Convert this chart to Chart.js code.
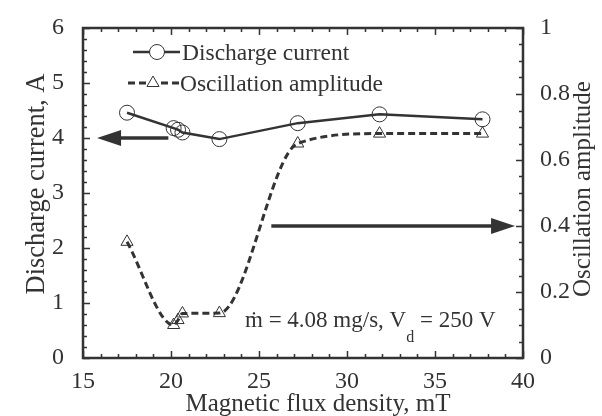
<!DOCTYPE html>
<html>
<head>
<meta charset="utf-8">
<script src="https://cdn.jsdelivr.net/npm/chart.js@4.4.1/dist/chart.umd.min.js"></script>
<style>
  html, body { margin: 0; padding: 0; background: #fff; }
  #wrap { width: 602px; height: 416px; }
</style>
</head>
<body>
<div id="wrap"><canvas id="chart" width="602" height="416"></canvas></div>
<script>
// Magnetic flux density (mT) for each operating point
const fluxDensity = [17.5, 20.15, 20.4, 20.65, 22.75, 27.2, 31.85, 37.7];
// Discharge current, A (left axis)
const dischargeCurrent = [4.46, 4.18, 4.15, 4.10, 3.98, 4.27, 4.43, 4.34];
// Oscillation amplitude (right axis)
const oscillationAmplitude = [0.352, 0.10, 0.115, 0.135, 0.136, 0.65, 0.68, 0.68];

const xTicks = [15, 20, 25, 30, 35, 40];
const currentTicks = [0, 1, 2, 3, 4, 5, 6];
const amplitudeTicks = [0, 0.2, 0.4, 0.6, 0.8, 1];

const INK = '#333';
const SERIF = '"Liberation Serif", "Times New Roman", serif';

Chart.defaults.font.family = SERIF;
Chart.defaults.color = INK;

const toPoints = ys => fluxDensity.map((x, i) => ({ x: x, y: ys[i] }));
const plainLabel = v => String(+Number(v).toFixed(2));

// inward ticks, frame, titles, legend, arrows and the operating-condition note
const decorations = {
  id: 'decorations',
  afterDraw(chart) {
    const ctx = chart.ctx;
    const area = chart.chartArea;
    const xs = chart.scales.x, yl = chart.scales.y, yr = chart.scales.y1;
    ctx.save();
    ctx.strokeStyle = INK;
    ctx.fillStyle = INK;

    // minor/major ticks
    ctx.lineWidth = 1.5;
    ctx.beginPath();
    for (let v = 15; v <= 40.001; v += 1) {
      const px = Math.round(xs.getPixelForValue(v)) + 0.5;
      const len = Math.abs(v % 5) < 1e-6 ? 7 : 4;
      ctx.moveTo(px, area.bottom); ctx.lineTo(px, area.bottom - len);
      ctx.moveTo(px, area.top); ctx.lineTo(px, area.top + len);
    }
    for (let i = 0; i <= 30; i++) {
      const py = Math.round(yl.getPixelForValue(i * 0.2)) + 0.5;
      const len = i % 5 === 0 ? 7 : 4;
      ctx.moveTo(area.left, py); ctx.lineTo(area.left + len, py);
    }
    for (let i = 0; i <= 20; i++) {
      const py = Math.round(yr.getPixelForValue(i * 0.05)) + 0.5;
      const len = i % 4 === 0 ? 7 : 4;
      ctx.moveTo(area.right, py); ctx.lineTo(area.right - len, py);
    }
    ctx.stroke();

    // plot frame
    ctx.lineWidth = 2.5;
    ctx.strokeRect(area.left, area.top, area.right - area.left, area.bottom - area.top);

    // axis titles
    ctx.textAlign = 'center';
    ctx.textBaseline = 'alphabetic';
    ctx.font = '25px ' + SERIF;
    ctx.fillText('Magnetic flux density, mT', 318, 411);
    ctx.save();
    ctx.font = '26.5px ' + SERIF;
    ctx.translate(44, 184);
    ctx.rotate(-Math.PI / 2);
    ctx.fillText('Discharge current, A', 0, 0);
    ctx.restore();
    ctx.save();
    ctx.font = '25px ' + SERIF;
    ctx.translate(590, 189);
    ctx.rotate(-Math.PI / 2);
    ctx.fillText('Oscillation amplitude', 0, 0);
    ctx.restore();

    // legend
    ctx.lineWidth = 2.5;
    ctx.beginPath();
    ctx.moveTo(133, 52); ctx.lineTo(180, 52);
    ctx.stroke();
    ctx.lineWidth = 1;
    ctx.beginPath();
    ctx.arc(157, 52, 7.5, 0, Math.PI * 2);
    ctx.fillStyle = '#fff';
    ctx.fill();
    ctx.stroke();
    ctx.lineWidth = 3;
    ctx.setLineDash([7, 4]);
    ctx.beginPath();
    ctx.moveTo(128, 83); ctx.lineTo(180, 83);
    ctx.stroke();
    ctx.setLineDash([]);
    ctx.lineWidth = 1;
    ctx.beginPath();
    const tr = 7;
    ctx.moveTo(153, 83 - tr);
    ctx.lineTo(153 + tr * Math.sin(2 * Math.PI / 3), 83 + tr / 2);
    ctx.lineTo(153 - tr * Math.sin(2 * Math.PI / 3), 83 + tr / 2);
    ctx.closePath();
    ctx.fill();
    ctx.stroke();
    ctx.fillStyle = INK;
    ctx.font = '23.5px ' + SERIF;
    ctx.textAlign = 'left';
    ctx.fillText('Discharge current', 182, 60);
    ctx.fillText('Oscillation amplitude', 180, 91);

    // arrows pointing to each series' axis
    const arrow = (x0, x1, y) => {
      ctx.lineWidth = 3.5;
      const dir = Math.sign(x1 - x0);
      ctx.beginPath();
      ctx.moveTo(x0, y); ctx.lineTo(x1 - dir * 20, y);
      ctx.stroke();
      ctx.beginPath();
      ctx.moveTo(x1, y);
      ctx.lineTo(x1 - dir * 24, y - 8);
      ctx.lineTo(x1 - dir * 24, y + 8);
      ctx.closePath();
      ctx.fill();
    };
    arrow(xs.getPixelForValue(19.85), xs.getPixelForValue(15.8), yl.getPixelForValue(4));
    arrow(xs.getPixelForValue(25.7), xs.getPixelForValue(39.55), yr.getPixelForValue(0.4));

    // operating condition
    let tx = 245;
    const base = 327;
    const part = (s, dy, font) => {
      ctx.font = font;
      ctx.fillText(s, tx, base + dy);
      tx += ctx.measureText(s).width;
    };
    part('\u1e41 = 4.08 mg/s, V', 0, '23px ' + SERIF);
    part('d', 15, '16px ' + SERIF);
    part(' = 250 V', 0, '23px ' + SERIF);

    ctx.restore();
  }
};

new Chart(document.getElementById('chart'), {
  type: 'line',
  data: {
    datasets: [{
      label: 'Discharge current',
      data: toPoints(dischargeCurrent),
      yAxisID: 'y',
      borderColor: INK,
      borderWidth: 2.5,
      pointStyle: 'circle',
      pointRadius: 7.5,
      pointBorderWidth: 1,
      pointBorderColor: INK,
      pointBackgroundColor: 'rgba(0,0,0,0)',
      tension: 0
    }, {
      label: 'Oscillation amplitude',
      data: toPoints(oscillationAmplitude),
      yAxisID: 'y1',
      borderColor: INK,
      borderWidth: 3,
      borderDash: [7, 4],
      cubicInterpolationMode: 'monotone',
      pointStyle: 'triangle',
      pointRadius: 7,
      pointBorderWidth: 1,
      pointBorderColor: INK,
      pointBackgroundColor: 'rgba(0,0,0,0)'
    }]
  },
  options: {
    responsive: false,
    animation: false,
    events: [],
    layout: { padding: { top: 28, left: 0, right: 0, bottom: 0 } },
    plugins: { legend: { display: false }, tooltip: { enabled: false } },
    scales: {
      x: {
        type: 'linear',
        min: 15, max: 40,
        afterBuildTicks: s => { s.ticks = xTicks.map(v => ({ value: v })); },
        afterFit: s => { s.height = 58; },
        grid: { display: false },
        border: { display: false },
        ticks: { font: { size: 24 }, color: INK, padding: 1, maxRotation: 0, callback: plainLabel }
      },
      y: {
        position: 'left',
        min: 0, max: 6,
        afterBuildTicks: s => { s.ticks = currentTicks.map(v => ({ value: v })); },
        afterFit: s => { s.width = 83; },
        grid: { display: false },
        border: { display: false },
        ticks: { font: { size: 24 }, color: INK, padding: 11, callback: plainLabel }
      },
      y1: {
        position: 'right',
        min: 0, max: 1,
        afterBuildTicks: s => { s.ticks = amplitudeTicks.map(v => ({ value: v })); },
        afterFit: s => { s.width = 79; },
        grid: { display: false },
        border: { display: false },
        ticks: { font: { size: 24 }, color: INK, padding: 9, callback: plainLabel }
      }
    }
  },
  plugins: [decorations]
});
</script>
</body>
</html>
